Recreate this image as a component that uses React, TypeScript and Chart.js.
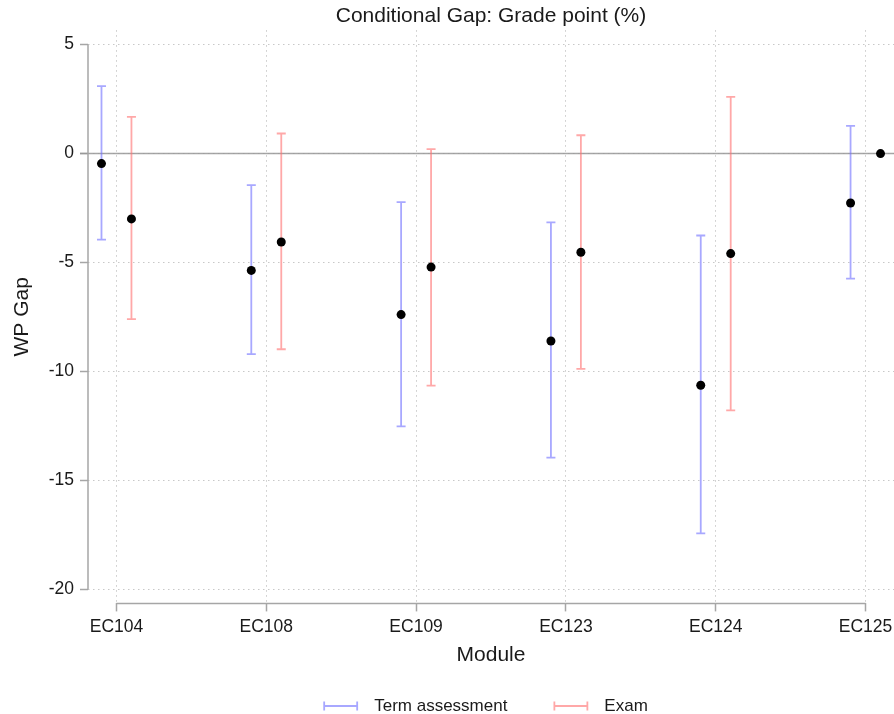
import React, { useEffect, useRef } from "react";
import { Chart, registerables } from "chart.js";

Chart.register(...registerables);

const modules = ["EC104", "EC108", "EC109", "EC123", "EC124", "EC125"];
const termGap = [-0.46, -5.36, -7.39, -8.6, -10.63, -2.27];
const termLow = [-3.95, -9.2, -12.52, -13.95, -17.43, -5.74];
const termHigh = [3.09, -1.45, -2.23, -3.16, -3.76, 1.27];
const examGap = [-3.0, -4.06, -5.21, -4.53, -4.59, 0];
const examLow: (number | null)[] = [-7.6, -8.98, -10.65, -9.88, -11.78, null];
const examHigh: (number | null)[] = [1.68, 0.92, 0.2, 0.84, 2.6, null];
const yTicks = [-20, -15, -10, -5, 0, 5];
const seriesLabels = ["Term assessment", "Exam"];

const DODGE = 0.1;
const CAP = 4.5;
const FONT = '"Liberation Sans", Arial, sans-serif';
const AXIS_COLOR = "#a6a6a6";
const GRID_COLOR = "#c8c8c8";
const TERM_COLOR = "rgba(110,110,255,0.6)";
const EXAM_COLOR = "rgba(255,110,110,0.6)";

const errorBarPlugin = {
  id: "errorBars",
  beforeDatasetsDraw(chart: any) {
    const { ctx, scales } = chart;
    const x = scales.x, y = scales.y;
    // zero reference line
    const y0 = y.getPixelForValue(0);
    ctx.save();
    ctx.strokeStyle = "rgba(150,150,150,0.85)";
    ctx.lineWidth = 1.6;
    ctx.beginPath();
    ctx.moveTo(chart.chartArea.left - 8, y0);
    ctx.lineTo(chart.chartArea.right, y0);
    ctx.stroke();
    // axis lines spanning tick range
    ctx.strokeStyle = AXIS_COLOR;
    ctx.lineWidth = 1.5;
    ctx.beginPath();
    const yl = chart.chartArea.left;
    ctx.moveTo(yl, y.getPixelForValue(yTicks[0]));
    ctx.lineTo(yl, y.getPixelForValue(yTicks[yTicks.length - 1]));
    const xb = chart.chartArea.bottom;
    ctx.moveTo(x.getPixelForValue(0), xb);
    ctx.lineTo(x.getPixelForValue(modules.length - 1), xb);
    ctx.stroke();
    ctx.restore();

    chart.data.datasets.forEach((ds: any) => {
      if (!ds.errLow) return;
      ctx.save();
      ctx.strokeStyle = ds.errColor;
      ctx.lineWidth = 1.8;
      ds.data.forEach((p: any, i: number) => {
        const lo = ds.errLow[i];
        const hi = ds.errHigh[i];
        if (lo == null || hi == null) return;
        const px = x.getPixelForValue(p.x);
        const p1 = y.getPixelForValue(lo);
        const p2 = y.getPixelForValue(hi);
        ctx.beginPath();
        ctx.moveTo(px, p1);
        ctx.lineTo(px, p2);
        ctx.moveTo(px - CAP, p1);
        ctx.lineTo(px + CAP, p1);
        ctx.moveTo(px - CAP, p2);
        ctx.lineTo(px + CAP, p2);
        ctx.stroke();
      });
      ctx.restore();
    });
  },
};

const legendPlugin = {
  id: "customLegend",
  afterDraw(chart: any) {
    const { ctx, chartArea } = chart;
    const items = chart.data.datasets.filter((d: any) => d.errColor);
    ctx.save();
    ctx.font = `17px ${FONT}`;
    const symW = 33, gapSym = 17, gapItem = 47;
    const widths = items.map((d: any) => symW + gapSym + ctx.measureText(d.label).width);
    const total = widths.reduce((a: number, b: number) => a + b, 0) + gapItem * (items.length - 1);
    let cx = (chartArea.left + chartArea.right) / 2 - total / 2 - 5;
    const cy = chart.height - 8;
    items.forEach((d: any, i: number) => {
      ctx.strokeStyle = d.errColor;
      ctx.lineWidth = 1.8;
      ctx.beginPath();
      ctx.moveTo(cx, cy);
      ctx.lineTo(cx + symW, cy);
      ctx.moveTo(cx, cy - CAP);
      ctx.lineTo(cx, cy + CAP);
      ctx.moveTo(cx + symW, cy - CAP);
      ctx.lineTo(cx + symW, cy + CAP);
      ctx.stroke();
      ctx.fillStyle = "#1a1a1a";
      ctx.textAlign = "left";
      ctx.textBaseline = "middle";
      ctx.fillText(d.label, cx + symW + gapSym, cy);
      cx += widths[i] + gapItem;
    });
    ctx.restore();
  },
};

export default function App() {
  const ref = useRef<HTMLCanvasElement>(null);
  useEffect(() => {
    document.body.style.margin = "0";
    const canvas = ref.current;
    if (!canvas) return;
    const chart = new Chart(canvas, {
      type: "scatter",
      data: {
        datasets: [
          {
            label: seriesLabels[0],
            data: termGap.map((v, i) => ({ x: i - DODGE, y: v })),
            errLow: termLow,
            errHigh: termHigh,
            errColor: TERM_COLOR,
            pointRadius: 4.5,
            pointBackgroundColor: "#000",
            pointBorderWidth: 0,
          } as any,
          {
            label: seriesLabels[1],
            data: examGap.map((v, i) => ({ x: i + DODGE, y: v })),
            errLow: examLow,
            errHigh: examHigh,
            errColor: EXAM_COLOR,
            pointRadius: 4.5,
            pointBackgroundColor: "#000",
            pointBorderWidth: 0,
          } as any,
        ],
      },
      options: {
        responsive: false,
        animation: false,
        devicePixelRatio: 1,
        layout: { autoPadding: false, padding: { left: 0, right: 0, top: 0, bottom: 46 } },
        plugins: {
          legend: { display: false },
          tooltip: { enabled: false },
          title: {
            display: true,
            text: "Conditional Gap: Grade point (%)",
            fullSize: false,
            color: "#1a1a1a",
            font: { family: FONT, size: 21, weight: "normal" },
            padding: { top: 4, bottom: 1 },
          },
        },
        scales: {
          x: {
            type: "linear",
            min: -0.19,
            max: 5.19,
            afterBuildTicks: (scale: any) => {
              scale.ticks = modules.map((_, i) => ({ value: i }));
            },
            afterFit: (scale: any) => {
              scale.height = 64.6;
              scale.paddingRight = 0;
              scale.paddingLeft = 0;
            },
            ticks: {
              autoSkip: false,
              maxRotation: 0,
              padding: 5,
              color: "#1a1a1a",
              font: { family: FONT, size: 17.5 },
              callback: (v: any) => modules[Math.round(Number(v))] ?? "",
            },
            grid: {
              color: GRID_COLOR,
              lineWidth: 1,
              drawTicks: true,
              tickLength: 8,
              tickColor: AXIS_COLOR,
              tickWidth: 1.5,
              tickBorderDash: [],
            },
            border: { display: false, dash: [1.5, 3.5] },
            title: {
              display: true,
              text: "Module",
              color: "#1a1a1a",
              font: { family: FONT, size: 21 },
              padding: { top: 0, bottom: 0 },
            },
          },
          y: {
            type: "linear",
            min: -20.64,
            max: 5.66,
            afterBuildTicks: (scale: any) => {
              scale.ticks = yTicks.map((v) => ({ value: v }));
            },
            afterFit: (scale: any) => {
              scale.width = 88;
            },
            ticks: {
              padding: 6,
              color: "#1a1a1a",
              font: { family: FONT, size: 17.5 },
              callback: (v: any) => String(v),
            },
            grid: {
              color: GRID_COLOR,
              lineWidth: 1,
              drawTicks: true,
              tickLength: 8,
              tickColor: AXIS_COLOR,
              tickWidth: 1.5,
              tickBorderDash: [],
            },
            border: { display: false, dash: [1.5, 3.5] },
            title: {
              display: true,
              text: "WP Gap",
              color: "#1a1a1a",
              font: { family: FONT, size: 21 },
              padding: { top: 10, bottom: 0 },
            },
          },
        },
      } as any,
      plugins: [errorBarPlugin, legendPlugin],
    });
    return () => chart.destroy();
  }, []);
  return (
    <div style={{ width: 894, height: 714 }}>
      <canvas ref={ref} width={894} height={714} style={{ display: "block" }} />
    </div>
  );
}
